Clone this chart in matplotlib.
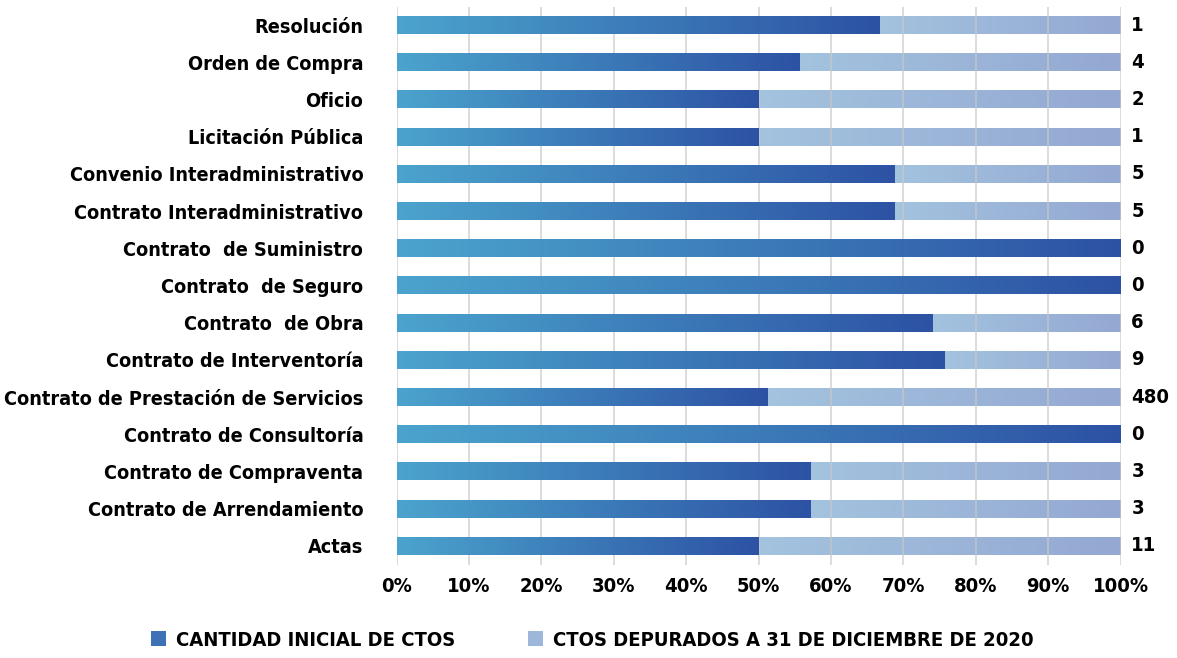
import numpy as np
import matplotlib
matplotlib.use("Agg")
import matplotlib.pyplot as plt
from matplotlib.colors import LinearSegmentedColormap
from matplotlib.patches import Patch

categorias = ["Resolución", "Orden de Compra", "Oficio", "Licitación Pública",
              "Convenio Interadministrativo", "Contrato Interadministrativo",
              "Contrato  de Suministro", "Contrato  de Seguro", "Contrato  de Obra",
              "Contrato de Interventoría", "Contrato de Prestación de Servicios",
              "Contrato de Consultoría", "Contrato de Compraventa",
              "Contrato de Arrendamiento", "Actas"]
inicial = [2, 5, 2, 1, 11, 11, 1, 1, 17, 28, 502, 1, 4, 4, 11]
depurados = [1, 4, 2, 1, 5, 5, 0, 0, 6, 9, 480, 0, 3, 3, 11]
ticks = [f"{p}%" for p in range(0, 101, 10)]

plt.rcParams["font.family"] = ["DejaVu Sans"]
plt.rcParams["font.stretch"] = "condensed"
plt.rcParams["font.weight"] = "bold"

inicial = np.array(inicial, dtype=float)
depurados = np.array(depurados, dtype=float)
pct_ini = inicial / (inicial + depurados) * 100
pct_dep = depurados / (inicial + depurados) * 100

fig = plt.figure(figsize=(11.77, 6.58), dpi=100)
ax = fig.add_axes([0.337, 0.142, 0.615, 0.848])

y = np.arange(len(categorias))[::-1]
h = 0.47

cmap_dark = LinearSegmentedColormap.from_list("dark", ["#4ba4cd", "#2d52a4"])
cmap_light = LinearSegmentedColormap.from_list("light", ["#a3c3df", "#94a8d2"])
grad = np.linspace(0, 1, 256).reshape(1, -1)

for yi, a, b in zip(y, pct_ini, pct_dep):
    if b > 0:
        ax.imshow(grad, cmap=cmap_light, aspect="auto", extent=[a, 100, yi - h / 2, yi + h / 2],
                  zorder=1, interpolation="bicubic")
    ax.imshow(grad, cmap=cmap_dark, aspect="auto", extent=[0, a, yi - h / 2, yi + h / 2],
              zorder=3, interpolation="bicubic")

for x in range(0, 101, 10):
    ax.axvline(x, color="#c8c8c8", lw=1.3, zorder=2, alpha=0.7)

for yi, d in zip(y, depurados):
    ax.text(101.5, yi, f"{int(d)}", va="center", ha="left", fontsize=14.5, fontweight="bold")

ax.set_xlim(0, 100)
ax.set_ylim(-0.5, len(categorias) - 0.5)
ax.set_yticks(y)
ax.set_yticklabels(categorias, fontsize=14.2, fontweight="bold")
ax.set_xticks(range(0, 101, 10))
ax.set_xticklabels(ticks, fontsize=14.5, fontweight="bold")
ax.tick_params(axis="both", length=0)
ax.tick_params(axis="y", pad=24)
ax.tick_params(axis="x", pad=9)
for s in ax.spines.values():
    s.set_visible(False)

handles = [Patch(facecolor="#3d72b6", label="CANTIDAD INICIAL DE CTOS"),
           Patch(facecolor="#9cb7da", label="CTOS DEPURADOS A 31 DE DICIEMBRE DE 2020")]
fig.legend(handles=handles, loc="center", bbox_to_anchor=(0.503, 0.027), ncol=2, frameon=False,
           fontsize=14.5, handlelength=0.75, handleheight=0.75, columnspacing=3.6, handletextpad=0.5)

fig.savefig("out.png", dpi=100)
